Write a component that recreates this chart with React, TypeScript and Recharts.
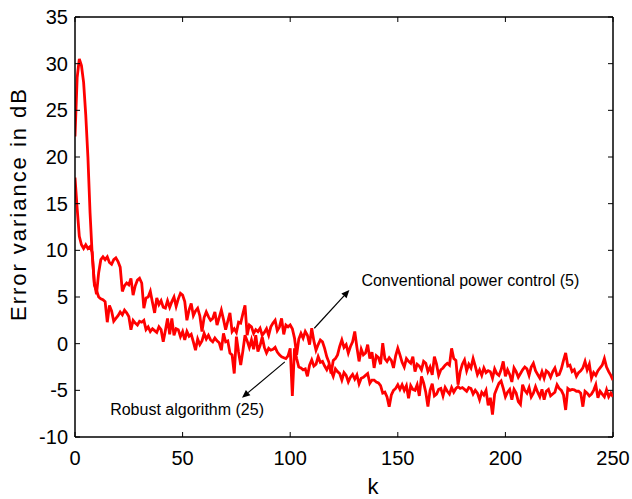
import React from 'react';
import { LineChart, Line, XAxis, YAxis, ReferenceLine } from 'recharts';

const kValues: number[] = Array.from({ length: 251 }, (_, i) => i);

const conventional: number[] = [
  22.2, 28.5, 30.5, 29.8, 28.0, 24.5, 20.0, 14.0, 9.5, 6.5,
  5.3, 7.6, 9.0, 9.3, 9.0, 9.3, 8.7, 8.5, 9.0, 9.2,
  8.8, 8.2, 5.6, 6.2, 6.5, 6.3, 7.0, 5.2, 6.2, 6.8,
  7.0, 6.5, 3.8, 4.9, 5.0, 5.6, 4.4, 3.3, 4.9, 4.2,
  4.6, 3.9, 3.8, 4.6, 3.9, 4.5, 5.0, 4.0, 4.8, 5.4,
  5.2, 4.5, 2.5, 3.6, 4.3, 3.0, 3.5, 3.8, 3.0, 1.3,
  2.8, 3.4, 2.9, 2.5, 2.7, 3.4, 2.0, 2.8, 3.6, 2.6,
  1.5, 2.4, 3.3, 1.3, 1.6, 1.2, 2.3, 2.2, 3.2, 4.1,
  0.9, 2.0, 1.8, 1.1, 1.5, 1.3, 1.65, 0.9, 1.2, 1.6,
  0.9, 1.8, 2.2, 2.5, 1.4, 1.8, 2.7, 1.0, 2.0, 1.8,
  2.0, 1.6, 0.6, -1.2, 0.5, 1.1, 0.6, 1.3, 0.9, -0.1,
  1.65, 0.3, -0.7, -0.1, 0.4, 0.2, -0.5, -1.4, -2.0, -3.2,
  -1.8, -1.6, -1.2, -0.3, 0.4, -0.4, -0.1, -1.0, -0.3, 0.2,
  1.3, -0.4, -1.9, -0.6, -1.2, -1.0, -0.1, -1.6, -0.9, -2.6,
  -1.3, -1.5, -2.2, 0.05, -1.6, -1.9, -1.5, -1.8, -2.6, -1.3,
  -0.5, -1.2, -2.0, -2.5, -1.6, -1.9, -2.1, -1.4, -3.0, -2.2,
  -2.4, -2.8, -1.9, -2.1, -3.0, -2.5, -3.35, -1.4, -2.2, -3.4,
  -2.8, -2.6, -2.3, -2.1, -2.3, -0.5, -1.6, -1.8, -4.4, -3.0,
  -2.2, -1.75, -2.9, -2.2, -2.6, -1.6, -2.4, -3.3, -2.8, -3.4,
  -2.6, -3.1, -2.9, -3.0, -3.7, -2.7, -3.2, -3.4, -2.8, -1.9,
  -3.5, -2.8, -3.3, -4.1, -2.6, -3.0, -3.6, -3.2, -2.8, -2.5,
  -2.7, -3.4, -2.5, -2.1, -2.9, -3.3, -3.7, -3.0, -3.7, -2.9,
  -3.1, -3.6, -3.0, -2.6, -3.4, -3.3, -2.7, -1.8, -1.0, -2.4,
  -2.3, -3.0, -2.8, -3.5, -3.1, -2.9, -2.6, -1.9, -2.8, -2.2,
  -3.7, -3.1, -3.4, -2.9, -2.6, -2.3, -1.6, -2.5, -3.0, -3.4,
  -3.9,
];

const robust: number[] = [
  17.8, 14.5, 11.5, 10.6, 10.2, 10.6, 10.2, 10.4, 9.8, 6.3,
  5.7, 5.0, 4.8, 4.7, 4.5, 2.3, 4.1, 3.5, 2.4, 2.7,
  3.0, 3.4, 3.1, 3.6, 3.3, 2.9, 1.5, 2.5, 2.2, 2.0,
  2.4, 2.3, 2.5, 1.5, 1.8, 1.3, 1.6, 1.4, 1.2, 1.8,
  1.5, 0.2, 1.4, 2.7, 1.0, 2.7, 0.9, 1.6, 1.5, 0.75,
  1.3, 0.4, 1.3, 0.8, 1.0, 0.2, -0.7, 0.5, -0.1, 0.3,
  1.1, 0.5, 0.9, 0.4, 0.2, 0.6, 0.3, 0.1, -0.7, 1.1,
  0.2, 0.3, -1.0, -1.2, -3.2, 0.75, -0.9, -2.3, -0.8, 0.9,
  0.3, -0.4, 0.4, -0.6, 0.9, -0.85, -0.2, 0.7, -0.4, -1.0,
  -0.5, -0.7, -0.6, -0.4, -0.9, -1.2, -1.4, -1.5, -1.6, -1.3,
  -0.5, -5.6, -0.5, -1.6, -2.5, -2.6, -2.8, -2.7, -3.5, -2.3,
  -1.75, -2.4, -2.2, -1.4, -2.0, -1.9, -2.4, -2.8, -2.3, -2.9,
  -3.5, -2.7, -3.0, -3.2, -3.9, -3.1, -3.4, -4.1, -3.6, -3.3,
  -3.8, -3.35, -4.3, -3.7, -3.6, -3.4, -3.2, -4.25, -3.9, -3.9,
  -4.1, -4.2, -4.5, -5.3, -5.2, -5.7, -6.75, -5.5, -5.0, -4.8,
  -4.4, -4.9, -4.4, -5.0, -4.5, -5.85, -4.5, -4.9, -5.0, -4.4,
  -5.6, -3.5, -4.2, -5.2, -6.75, -5.0, -4.3, -5.6, -5.4, -4.9,
  -4.8, -5.6, -4.7, -5.1, -5.4, -4.7, -5.2, -4.8, -4.6, -4.8,
  -4.7, -4.9, -5.1, -4.7, -4.8, -5.4, -5.0, -5.3, -6.0, -5.2,
  -5.5, -5.0, -6.6, -5.8, -7.6, -5.4, -4.8, -4.25, -4.0, -4.8,
  -5.7, -5.2, -4.9, -6.0, -4.9, -5.3, -6.2, -6.5, -4.4, -5.0,
  -5.3, -4.7, -5.7, -5.3, -4.6, -5.2, -5.7, -4.9, -6.0, -5.1,
  -4.9, -5.6, -5.4, -5.2, -4.4, -4.8, -5.0, -5.5, -7.1, -4.8,
  -5.0, -4.9, -4.95, -5.1, -5.1, -5.3, -6.75, -5.1, -5.3, -5.6,
  -5.4, -5.0, -4.4, -5.8, -5.1, -5.4, -5.7, -4.95, -5.7, -5.3,
  -5.7,
];

const xTicks: number[] = [0, 50, 100, 150, 200, 250];
const yTicks: number[] = [-10, -5, 0, 5, 10, 15, 20, 25, 30, 35];

const convLabel = 'Conventional power control (5)';
const robustLabel = 'Robust algorithm (25)';
const convArrow = [{ x: 111.2, y: 1.65 }, { x: 127.5, y: 5.75 }];
const robustArrow = [{ x: 97.5, y: -1.95 }, { x: 77.6, y: -5.8 }];

const data = kValues.map((k, i) => ({ k, conv: conventional[i], robust: robust[i] }));

const FONT = 'Liberation Sans, Arial, sans-serif';
const PLOT_TOP = 17;
const PLOT_RIGHT = 613;

const XTick = (props: any) => {
  const { x, y, payload } = props;
  return (
    <g>
      <line x1={x} y1={y} x2={x} y2={y - 5} stroke="#000" strokeWidth={1} />
      <line x1={x} y1={PLOT_TOP} x2={x} y2={PLOT_TOP + 5} stroke="#000" strokeWidth={1} />
      <text x={x} y={y + 28} textAnchor="middle" fontFamily={FONT} fontSize={20} fill="#000">
        {payload.value}
      </text>
    </g>
  );
};

const YTick = (props: any) => {
  const { x, y, payload } = props;
  return (
    <g>
      <line x1={x} y1={y} x2={x + 5} y2={y} stroke="#000" strokeWidth={1} />
      <line x1={PLOT_RIGHT} y1={y} x2={PLOT_RIGHT - 5} y2={y} stroke="#000" strokeWidth={1} />
      <text x={x - 7} y={y + 7} textAnchor="end" fontFamily={FONT} fontSize={20} fill="#000">
        {payload.value}
      </text>
    </g>
  );
};

const makeArrow = (label: string, dx: number, dy: number, anchor: string) => (props: any) => {
  const { x1, y1, x2, y2 } = props;
  const ang = Math.atan2(y2 - y1, x2 - x1);
  const L = 8;
  const W = 3.5;
  const bx = x2 - L * Math.cos(ang);
  const by = y2 - L * Math.sin(ang);
  const px = -Math.sin(ang) * W;
  const py = Math.cos(ang) * W;
  return (
    <g>
      <line x1={x1} y1={y1} x2={bx} y2={by} stroke="#000" strokeWidth={1.2} />
      <polygon points={`${x2},${y2} ${bx + px},${by + py} ${bx - px},${by - py}`} fill="#000" />
      <text x={x2 + dx} y={y2 + dy} textAnchor={anchor} fontFamily={FONT} fontSize={16} fill="#000">
        {label}
      </text>
    </g>
  );
};

const ConvArrow = makeArrow(convLabel, 12, -4, 'start');
const RobustArrow = makeArrow(robustLabel, 22, 17, 'end');

export default function App() {
  return (
    <div style={{ position: 'absolute', left: 0, top: 0, width: 632, height: 499, background: '#fff' }}>
      <LineChart width={632} height={499} data={data} margin={{ top: 17, right: 19, left: 0, bottom: 0 }}>
        <XAxis
          dataKey="k"
          type="number"
          domain={[0, 250]}
          ticks={xTicks}
          height={62}
          tickSize={0}
          tickMargin={0}
          tick={<XTick />}
          axisLine={{ stroke: '#000', strokeWidth: 1.5 }}
          tickLine={false}
          interval={0}
          allowDataOverflow
        />
        <YAxis
          type="number"
          domain={[-10, 35]}
          ticks={yTicks}
          width={75}
          tickSize={0}
          tickMargin={0}
          tick={<YTick />}
          axisLine={{ stroke: '#000', strokeWidth: 1.5 }}
          tickLine={false}
          interval={0}
          allowDataOverflow
        />
        <ReferenceLine y={35} stroke="#000" strokeWidth={1.5} />
        <ReferenceLine x={250} stroke="#000" strokeWidth={1.5} />
        <Line type="linear" dataKey="conv" stroke="#ff0000" strokeWidth={2.8} dot={false} isAnimationActive={false} />
        <Line type="linear" dataKey="robust" stroke="#ff0000" strokeWidth={2.8} dot={false} isAnimationActive={false} />
        <ReferenceLine segment={convArrow} shape={ConvArrow} ifOverflow="visible" />
        <ReferenceLine segment={robustArrow} shape={RobustArrow} ifOverflow="visible" />
      </LineChart>
      <svg width={632} height={499} style={{ position: 'absolute', left: 0, top: 0, pointerEvents: 'none' }}>
        <text x={26} y={205} transform="rotate(-90 26 205)" textAnchor="middle" fontFamily={FONT} fontSize={22} textLength={232} lengthAdjust="spacing" fill="#000">
          Error variance in dB
        </text>
        <text x={373} y={494} textAnchor="middle" fontFamily={FONT} fontSize={22} fill="#000">
          k
        </text>
      </svg>
    </div>
  );
}
